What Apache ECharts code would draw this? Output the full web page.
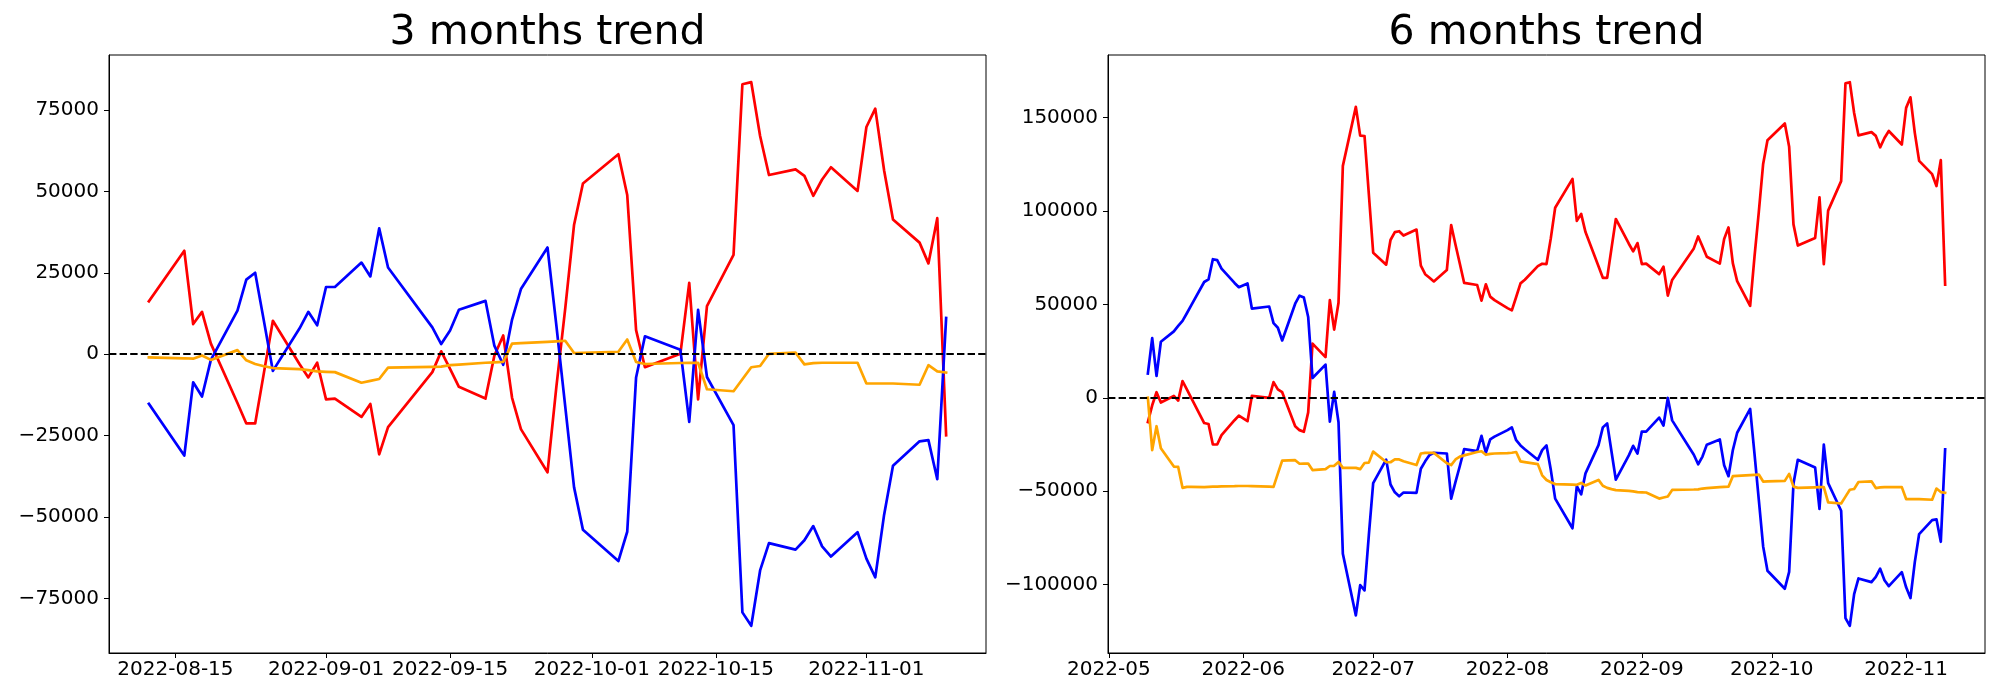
<!DOCTYPE html>
<html>
<head>
<meta charset="utf-8">
<script src="https://cdn.jsdelivr.net/npm/echarts@6/dist/echarts.min.js"></script>
<style>
html, body { margin: 0; padding: 0; background: #ffffff; }
#chart { width: 2000px; height: 700px; }
</style>
</head>
<body>
<div id="chart"></div>
<script>
// ---------------- 3 months trend ----------------
const dates3m = [
  '2022-08-12','2022-08-16','2022-08-17','2022-08-18','2022-08-19','2022-08-22','2022-08-23','2022-08-24','2022-08-25','2022-08-26','2022-08-29','2022-08-30','2022-08-31',
  '2022-09-01','2022-09-02','2022-09-05','2022-09-06','2022-09-07','2022-09-08','2022-09-13','2022-09-14','2022-09-15','2022-09-16','2022-09-19','2022-09-20','2022-09-21','2022-09-22','2022-09-23','2022-09-26','2022-09-27','2022-09-28','2022-09-29','2022-09-30',
  '2022-10-04','2022-10-05','2022-10-06','2022-10-07','2022-10-11','2022-10-12','2022-10-13','2022-10-14','2022-10-17','2022-10-18','2022-10-19','2022-10-20','2022-10-21','2022-10-24','2022-10-25','2022-10-26','2022-10-27','2022-10-28','2022-10-31',
  '2022-11-01','2022-11-02','2022-11-03','2022-11-04','2022-11-07','2022-11-08','2022-11-09','2022-11-10'
];
const red3m = [
  16250,31750,9250,13000,3250,-15000,-21250,-21250,-5500,10250,-3000,-7125,-2625,
  -13875,-13625,-19250,-15250,-30750,-22375,-5500,875,-4500,-10000,-13625,-500,5750,-13375,-23000,-36250,-10000,14000,39750,52375,
  61375,48875,7375,-4000,125,21875,-13875,14750,30500,82875,83500,67000,55000,56750,54750,48625,53625,57375,50125,
  69750,75375,56375,41375,34250,27875,41750,-24875
];
const blue3m = [
  -15250,-31125,-8625,-13000,-1750,13375,22875,25000,10000,-5125,7875,13000,8875,
  20625,20625,28125,23875,38625,26625,8250,3125,7250,13625,16375,2625,-3250,10625,20000,32750,8875,-16000,-40875,-53875,
  -63500,-54500,-7125,5500,1375,-20750,13625,-7000,-21750,-79250,-83375,-66375,-58000,-60000,-57125,-52750,-59000,-62125,-54625,
  -62750,-68500,-49250,-34250,-26750,-26375,-38375,11125
];
const orange3m = [
  -1000,-1250,-1375,-375,-1750,1250,-1875,-3000,-3700,-4250,-4600,-4875,-5250,
  -5400,-5500,-8750,-8200,-7625,-4125,-3900,-3800,-3375,-3200,-2625,-2500,-2375,3250,3400,3800,3950,4125,375,450,
  750,4500,-2375,-3000,-2700,-2650,-2625,-10750,-11375,-7700,-4000,-3625,125,500,-3125,-2750,-2625,-2625,-2625,
  -9000,-9000,-9000,-9000,-9375,-3375,-5250,-5625
];
const xTicks3m = ['2022-08-15','2022-09-01','2022-09-15','2022-10-01','2022-10-15','2022-11-01'];
const yTicks3m = [-75000,-50000,-25000,0,25000,50000,75000];

// ---------------- 6 months trend ----------------
const dates6m = [
  '2022-05-10','2022-05-11','2022-05-12','2022-05-13','2022-05-16','2022-05-17','2022-05-18','2022-05-19','2022-05-20','2022-05-23','2022-05-24','2022-05-25','2022-05-26','2022-05-27','2022-05-30','2022-05-31',
  '2022-06-02','2022-06-03','2022-06-07','2022-06-08','2022-06-09','2022-06-10','2022-06-13','2022-06-14','2022-06-15','2022-06-16','2022-06-17','2022-06-20','2022-06-21','2022-06-22','2022-06-23','2022-06-24','2022-06-27','2022-06-28','2022-06-29','2022-06-30',
  '2022-07-01','2022-07-04','2022-07-05','2022-07-06','2022-07-07','2022-07-08','2022-07-11','2022-07-12','2022-07-13','2022-07-14','2022-07-15','2022-07-18','2022-07-19','2022-07-20','2022-07-21','2022-07-22','2022-07-25','2022-07-26','2022-07-27','2022-07-28','2022-07-29',
  '2022-08-01','2022-08-02','2022-08-03','2022-08-04','2022-08-05','2022-08-08','2022-08-09','2022-08-10','2022-08-11',
  '2022-08-12','2022-08-16','2022-08-17','2022-08-18','2022-08-19','2022-08-22','2022-08-23','2022-08-24','2022-08-25','2022-08-26','2022-08-29','2022-08-30','2022-08-31',
  '2022-09-01','2022-09-02','2022-09-05','2022-09-06','2022-09-07','2022-09-08','2022-09-13','2022-09-14','2022-09-15','2022-09-16','2022-09-19','2022-09-20','2022-09-21','2022-09-22','2022-09-23','2022-09-26','2022-09-27','2022-09-28','2022-09-29','2022-09-30',
  '2022-10-04','2022-10-05','2022-10-06','2022-10-07','2022-10-11','2022-10-12','2022-10-13','2022-10-14','2022-10-17','2022-10-18','2022-10-19','2022-10-20','2022-10-21','2022-10-24','2022-10-25','2022-10-26','2022-10-27','2022-10-28','2022-10-31',
  '2022-11-01','2022-11-02','2022-11-03','2022-11-04','2022-11-07','2022-11-08','2022-11-09','2022-11-10'
];
const red6m = [
  -13000,-4000,3000,-2500,1000,-1500,9000,4500,0,-13500,-14000,-25000,-25000,-20000,-12000,-9500,
  -12500,1000,0,8400,4500,3000,-15200,-17300,-18200,-7800,29000,21800,52300,36500,50900,124200,155800,140400,140200,109000,
  77700,71300,84500,88700,89200,86900,90100,70800,66200,64300,62300,68400,92500,82000,71800,61500,60400,52000,60800,54200,52300,
  48000,46800,54000,61300,63200,70500,71800,71600,85500,
  101750,117250,94750,98500,88750,70500,64250,64250,80000,95750,82500,78375,82875,
  71625,71875,66250,70250,54750,63125,80000,86375,81000,75500,71875,85000,91250,72125,62500,49250,75500,99500,125250,137875,
  146875,134375,92875,81500,85625,107375,71625,100250,116000,168375,169000,152500,140500,142250,140250,134125,139125,142875,135625,
  155250,160875,141875,126875,119750,113375,127250,60625
];
const blue6m = [
  13000,32000,11700,30000,35600,38500,41200,45300,49500,62000,63400,74200,73700,69200,61500,59200,
  61200,47800,48900,40000,37500,30700,50400,54700,53700,43300,10600,17800,-12700,3200,-13100,-83500,-116500,-100300,-103100,-73500,
  -45700,-33100,-46400,-50600,-52700,-50700,-50900,-38000,-34000,-30600,-29400,-29800,-54000,-45000,-36500,-27500,-28500,-20400,-29400,-22300,-20800,
  -17300,-15800,-22700,-25500,-27500,-33200,-28000,-25500,-38700,
  -53950,-69825,-47325,-51700,-40450,-25325,-15825,-13700,-28700,-43825,-30825,-25700,-29825,
  -18075,-18075,-10575,-14825,-75,-12075,-30450,-35575,-31450,-25075,-22325,-36075,-41950,-28075,-18700,-5950,-29825,-54700,-79575,-92575,
  -102200,-93200,-45825,-33200,-37325,-59450,-25075,-45700,-60450,-117950,-122075,-105075,-96700,-98700,-95825,-91450,-97700,-100825,-93325,
  -101450,-107200,-87950,-72950,-65450,-65075,-77075,-27575
];
const orange6m = [
  0,-28000,-15200,-27000,-36800,-37000,-48200,-47700,-47700,-47800,-47700,-47600,-47500,-47400,-47300,-47200,
  -47200,-47300,-47600,-47700,-40600,-33600,-33400,-35300,-35200,-35200,-38700,-38200,-36500,-36400,-34300,-37500,-37500,-38200,-34900,-34700,
  -28800,-34400,-34500,-33000,-33000,-34000,-36000,-29800,-29500,-29500,-29500,-35000,-36000,-33000,-31500,-30800,-29000,-28600,-30500,-30000,-29800,
  -29600,-29400,-29000,-34000,-34400,-35500,-41500,-44000,-45200,
  -46200,-46450,-46575,-45575,-46950,-43950,-47075,-48200,-48900,-49450,-49800,-50075,-50450,
  -50600,-50700,-53950,-53400,-52825,-49325,-49100,-49000,-48575,-48400,-47825,-47700,-47575,-41950,-41800,-41400,-41250,-41075,-44825,-44750,
  -44450,-40700,-47575,-48200,-47900,-47850,-47825,-55950,-56575,-52900,-49200,-48825,-45075,-44700,-48325,-47950,-47825,-47825,-47825,
  -54200,-54200,-54200,-54200,-54575,-48575,-50450,-50825
];
const xTicks6m = ['2022-05-01','2022-06-01','2022-07-01','2022-08-01','2022-09-01','2022-10-01','2022-11-01'];
const yTicks6m = [-100000,-50000,0,50000,100000,150000];

// ---------------- helpers ----------------
function ts(s) { const p = s.split('-').map(Number); return new Date(p[0], p[1] - 1, p[2]).getTime(); }
function pad2(n) { return (n < 10 ? '0' : '') + n; }
function fmtDay(v) { const d = new Date(Math.round(v)); return d.getFullYear() + '-' + pad2(d.getMonth() + 1) + '-' + pad2(d.getDate()); }
function fmtMonth(v) { const d = new Date(Math.round(v)); return d.getFullYear() + '-' + pad2(d.getMonth() + 1); }
function fmtNum(v) { v = Math.round(v); return v < 0 ? '\u2212' + Math.abs(v) : String(v); }
function zip(ds, vs) { return ds.map((d, i) => [ts(d), vs[i]]); }
function padRange(lo, hi) { const m = (hi - lo) * 0.05; return [lo - m, hi + m]; }

const FONT = 'DejaVu Sans';
const xr3 = padRange(ts(dates3m[0]), ts(dates3m[dates3m.length - 1]));
const yr3 = padRange(Math.min(...red3m, ...blue3m, ...orange3m), Math.max(...red3m, ...blue3m, ...orange3m));
const xr6 = padRange(ts(dates6m[0]), ts(dates6m[dates6m.length - 1]));
const yr6 = padRange(Math.min(...red6m, ...blue6m, ...orange6m), Math.max(...red6m, ...blue6m, ...orange6m));

const GRIDS = [
  { left: 109, top: 55, width: 877, height: 598 },
  { left: 1108, top: 55, width: 877, height: 598 }
];

function xAxisCfg(idx, range, ticks, fmt) {
  const tv = ticks.map(ts);
  return {
    type: 'value', gridIndex: idx, min: range[0], max: range[1], scale: true,
    axisLine: { show: true, onZero: false, lineStyle: { color: '#000', width: 1 } },
    axisTick: { show: true, customValues: tv, length: 5, inside: false, lineStyle: { color: '#000', width: 1 } },
    axisLabel: { show: true, customValues: tv, formatter: fmt, color: '#000', fontSize: 20, fontFamily: FONT, margin: 7 },
    splitLine: { show: false }
  };
}
function yAxisCfg(idx, range, ticks) {
  return {
    type: 'value', gridIndex: idx, min: range[0], max: range[1], scale: true,
    axisLine: { show: true, onZero: false, lineStyle: { color: '#000', width: 1 } },
    axisTick: { show: true, customValues: ticks, length: 5, inside: false, lineStyle: { color: '#000', width: 1 } },
    axisLabel: { show: true, customValues: ticks, formatter: fmtNum, color: '#000', fontSize: 20, fontFamily: FONT, margin: 10 },
    splitLine: { show: false }
  };
}
function lineSeries(idx, name, ds, vs, color, withZero) {
  const s = {
    type: 'line', name: name, xAxisIndex: idx, yAxisIndex: idx,
    data: zip(ds, vs), showSymbol: false, symbol: 'none', animation: false, silent: true,
    lineStyle: { color: color, width: 2.7, join: 'round', cap: 'square' },
    itemStyle: { color: color }
  };
  if (withZero) {
    s.markLine = {
      silent: true, animation: false, symbol: ['none', 'none'], label: { show: false },
      lineStyle: { color: '#000', width: 2.1, type: [7.4, 3.2] },
      data: [{ yAxis: 0 }]
    };
  }
  return s;
}

const chart = echarts.init(document.getElementById('chart'), null, { renderer: 'canvas' });
chart.setOption({
  backgroundColor: '#ffffff',
  animation: false,
  textStyle: { fontFamily: FONT },
  grid: GRIDS.map(g => Object.assign({ show: true, borderColor: '#000', borderWidth: 1, backgroundColor: 'transparent', containLabel: false }, g)),
  xAxis: [
    xAxisCfg(0, xr3, xTicks3m, fmtDay),
    xAxisCfg(1, xr6, xTicks6m, fmtMonth)
  ],
  yAxis: [
    yAxisCfg(0, yr3, yTicks3m),
    yAxisCfg(1, yr6, yTicks6m)
  ],
  graphic: [
    { type: 'text', x: 109 + 877 / 2, y: 33, silent: true,
      style: { text: '3 months trend', font: '41px "DejaVu Sans"', fill: '#000', align: 'center', verticalAlign: 'middle' } },
    { type: 'text', x: 1108 + 877 / 2, y: 33, silent: true,
      style: { text: '6 months trend', font: '41px "DejaVu Sans"', fill: '#000', align: 'center', verticalAlign: 'middle' } }
  ],
  series: [
    lineSeries(0, 'red', dates3m, red3m, '#ff0000', false),
    lineSeries(0, 'blue', dates3m, blue3m, '#0000ff', false),
    lineSeries(0, 'orange', dates3m, orange3m, '#ffa500', true),
    lineSeries(1, 'red', dates6m, red6m, '#ff0000', false),
    lineSeries(1, 'blue', dates6m, blue6m, '#0000ff', false),
    lineSeries(1, 'orange', dates6m, orange6m, '#ffa500', true)
  ]
});
</script>
</body>
</html>
